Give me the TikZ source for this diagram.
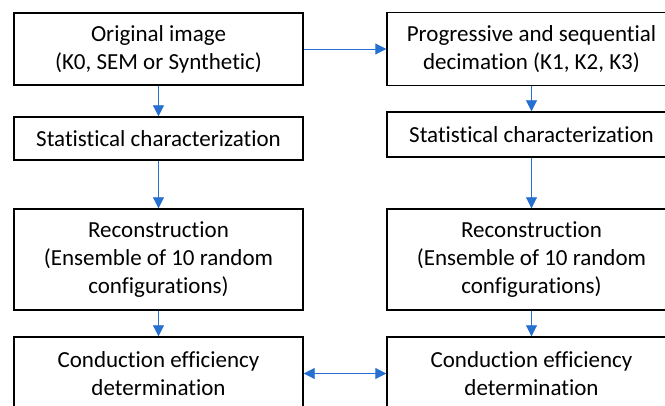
\documentclass[tikz,border=0pt]{standalone}
\usepackage{fontspec}
\setmainfont{Carlito}[Ligatures=NoCommon]
\usetikzlibrary{arrows.meta}
\definecolor{flowblue}{RGB}{38,112,210}

\begin{document}
\begin{tikzpicture}[x=1pt,y=1pt,yscale=-1,xscale=1,
  box/.style={draw, line width=1.4pt, inner sep=0pt, align=center, minimum width=289, font=\fontsize{23}{28}\selectfont},
  flow/.style={color=flowblue, line width=0.9pt, -{Triangle[length=11pt,width=11pt]}}]
\useasboundingbox (0,0) rectangle (665,406);
\clip (0,0) rectangle (665,406);

%Shape: Rectangle [left column]
\node [box, minimum height=72] (orig) at (158.5,49) {Original image\\(K0, SEM or Synthetic)};
\node [box, minimum height=43] (statL) at (158.5,138.5) {Statistical characterization};
\node [box, minimum height=101] (recL) at (158.5,259.5) {Reconstruction\\(Ensemble of 10 random\\configurations)};
\node [box, minimum height=73] (condL) at (158.5,373.5) {Conduction efficiency\\determination};

%Shape: Rectangle [right column]
\node [box, minimum height=73] (decim) at (531.5,49) {Progressive and sequential\\decimation (K1, K2, K3)};
\node [box, minimum height=45] (statR) at (531.5,134.5) {Statistical characterization};
\node [box, minimum height=101] (recR) at (531.5,259.5) {Reconstruction\\(Ensemble of 10 random\\configurations)};
\node [box, minimum height=73] (condR) at (531.5,373.5) {Conduction efficiency\\determination};

%Straight Lines [arrows]
\draw [flow] (orig) -- (statL);
\draw [flow] (statL) -- (recL);
\draw [flow] (recL) -- (condL);
\draw [flow] (orig) -- (decim);
\draw [flow] (decim) -- (statR);
\draw [flow] (statR) -- (recR);
\draw [flow] (recR) -- (condR);
\draw [flow, {Triangle[length=11pt,width=11pt]}-{Triangle[length=11pt,width=11pt]}] (condL) -- (condR);

\end{tikzpicture}
\end{document}
